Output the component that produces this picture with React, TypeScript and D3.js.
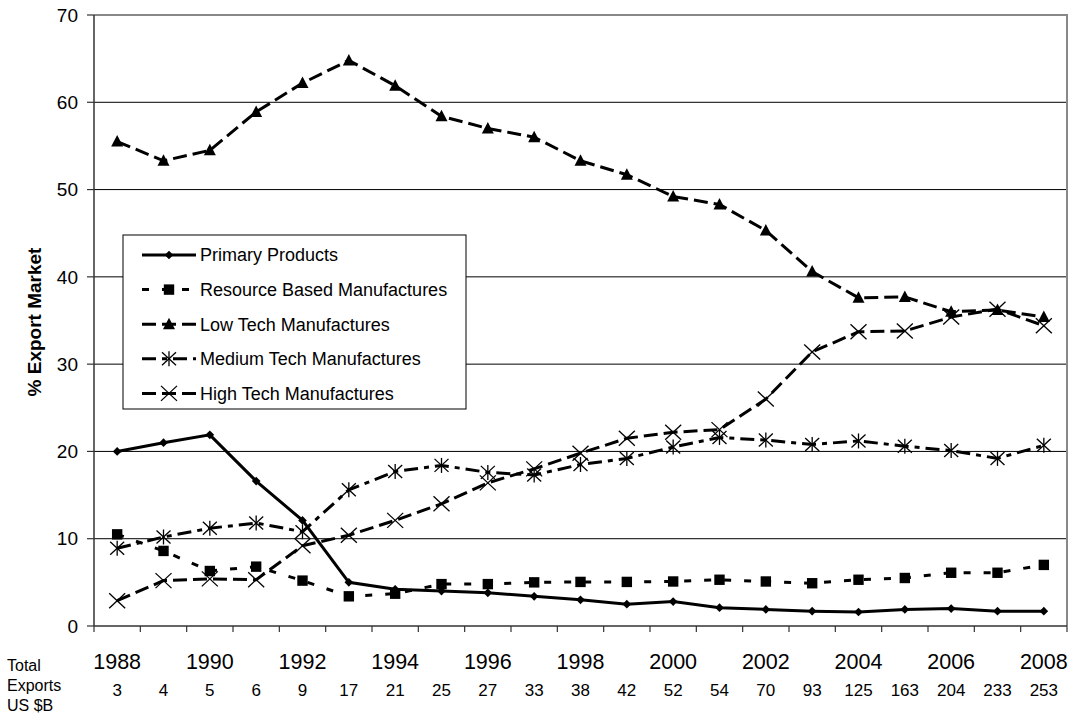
import React from "react";
import * as d3 from "d3";

const years = d3.range(1988, 2009);
const exportsUSB = [3, 4, 5, 6, 9, 17, 21, 25, 27, 33, 38, 42, 52, 54, 70, 93, 125, 163, 204, 233, 253];
const yTicks = [0, 10, 20, 30, 40, 50, 60, 70];

const primary = [20.0, 21.0, 21.9, 16.6, 12.1, 5.0, 4.2, 4.0, 3.8, 3.4, 3.0, 2.5, 2.8, 2.1, 1.9, 1.7, 1.6, 1.9, 2.0, 1.7, 1.7];
const resource = [10.5, 8.6, 6.3, 6.8, 5.2, 3.4, 3.7, 4.8, 4.8, 5.0, 5.05, 5.05, 5.1, 5.3, 5.1, 4.9, 5.3, 5.5, 6.1, 6.1, 7.0];
const lowTech = [55.5, 53.3, 54.5, 58.9, 62.2, 64.8, 61.9, 58.4, 57.0, 56.0, 53.3, 51.7, 49.2, 48.3, 45.3, 40.6, 37.6, 37.7, 36.0, 36.2, 35.4];
const mediumTech = [8.9, 10.2, 11.2, 11.8, 10.8, 15.6, 17.7, 18.4, 17.6, 17.3, 18.5, 19.2, 20.5, 21.6, 21.3, 20.8, 21.2, 20.6, 20.1, 19.2, 20.7];
const highTech = [2.9, 5.2, 5.4, 5.3, 9.2, 10.4, 12.1, 14.0, 16.4, 18.0, 19.8, 21.5, 22.2, 22.5, 26.0, 31.4, 33.7, 33.8, 35.4, 36.3, 34.4];

type Marker = "diamond" | "square" | "triangle" | "asterisk" | "cross";

const series: { name: string; values: number[]; dash: string; marker: Marker }[] = [
  { name: "Primary Products", values: primary, dash: "none", marker: "diamond" },
  { name: "Resource Based Manufactures", values: resource, dash: "7,13", marker: "square" },
  { name: "Low Tech Manufactures", values: lowTech, dash: "14,6", marker: "triangle" },
  { name: "Medium Tech Manufactures", values: mediumTech, dash: "14,6,5,6", marker: "asterisk" },
  { name: "High Tech Manufactures", values: highTech, dash: "14,6", marker: "cross" },
];

const FONT = "Liberation Sans, Arial, sans-serif";
const W = 1073, H = 715;
const m = { left: 94, right: 6, top: 15, bottom: 89 };

function MarkerShape({ type, x, y }: { type: Marker; x: number; y: number }) {
  const t = `translate(${x},${y})`;
  if (type === "diamond") {
    return <path transform={t} d={d3.symbol(d3.symbolDiamond2, 48)()!} fill="#000" />;
  }
  if (type === "square") {
    return <rect x={x - 5.2} y={y - 5.2} width={10.4} height={10.4} fill="#000" />;
  }
  if (type === "triangle") {
    return <path transform={t} d="M0,-6.5L6,5L-6,5Z" fill="#000" />;
  }
  if (type === "asterisk") {
    return (
      <g transform={t} stroke="#000" strokeWidth={1.3}>
        <line x1={-7} y1={-6.5} x2={7} y2={6.5} />
        <line x1={-7} y1={6.5} x2={7} y2={-6.5} />
        <line x1={0} y1={-7.5} x2={0} y2={7.5} />
      </g>
    );
  }
  return (
    <g transform={t} stroke="#000" strokeWidth={1.3}>
      <line x1={-8} y1={-7.5} x2={8} y2={7.5} />
      <line x1={-8} y1={7.5} x2={8} y2={-7.5} />
    </g>
  );
}

export default function App() {
  const iW = W - m.left - m.right;
  const iH = H - m.top - m.bottom;
  const x = d3.scaleBand<number>().domain(years).range([m.left, m.left + iW]);
  const y = d3.scaleLinear().domain([0, 70]).range([m.top + iH, m.top]);
  const cx = (yr: number) => x(yr)! + x.bandwidth() / 2;
  const line = d3.line<number>().x((_, i) => cx(years[i])).y(d => y(d));

  const legend = { x: 123, y: 235, w: 343, h: 174 };

  return (
    <svg width={W} height={H} style={{ position: "absolute", left: 0, top: 0, background: "#fff" }} fontFamily={FONT}>
      {/* gridlines */}
      {yTicks.slice(1, -1).map(t => (
        <line key={t} x1={m.left} x2={m.left + iW} y1={y(t)} y2={y(t)} stroke="#000" strokeWidth={1} />
      ))}
      {/* plot border */}
      <path d={`M${m.left},${y(70)}H${m.left + iW}V${y(0)}`} fill="none" stroke="#888" strokeWidth={2} />
      {/* y axis */}
      <line x1={m.left} x2={m.left} y1={y(70)} y2={y(0)} stroke="#333" strokeWidth={1.5} />
      {yTicks.map(t => (
        <g key={t}>
          <line x1={m.left - 7} x2={m.left} y1={y(t)} y2={y(t)} stroke="#333" strokeWidth={1.2} />
          <text x={78} y={y(t)} dy="0.35em" textAnchor="end" fontSize={19}>{t}</text>
        </g>
      ))}
      <text transform={`translate(41,${322}) rotate(-90)`} textAnchor="middle" fontSize={19} fontWeight="bold">% Export Market</text>
      {/* x axis */}
      <line x1={m.left} x2={m.left + iW} y1={y(0)} y2={y(0)} stroke="#333" strokeWidth={1.5} />
      {[...years, 2009].map((yr, i) => {
        const xp = m.left + i * x.bandwidth();
        return <line key={yr} x1={xp} x2={xp} y1={y(0)} y2={y(0) + 6} stroke="#333" strokeWidth={1.2} />;
      })}
      {years.filter(yr => yr % 2 === 0).map(yr => (
        <text key={yr} x={cx(yr)} y={669} textAnchor="middle" fontSize={21.5}>{yr}</text>
      ))}
      {years.map((yr, i) => (
        <text key={yr} x={cx(yr)} y={696} textAnchor="middle" fontSize={17}>{exportsUSB[i]}</text>
      ))}
      <text x={7} y={671} fontSize={16}>Total</text>
      <text x={7} y={691} fontSize={16}>Exports</text>
      <text x={7} y={711} fontSize={16}>US $B</text>

      {/* series */}
      {series.map(s => (
        <g key={s.name}>
          <path d={line(s.values)!} fill="none" stroke="#000" strokeWidth={3} strokeDasharray={s.dash} />
          {s.values.map((v, i) => (
            <MarkerShape key={i} type={s.marker} x={cx(years[i])} y={y(v)} />
          ))}
        </g>
      ))}

      {/* legend */}
      <rect x={legend.x} y={legend.y} width={legend.w} height={legend.h} fill="#fff" stroke="#000" strokeWidth={1} />
      {series.map((s, i) => {
        const ly = 255 + i * 34.6;
        return (
          <g key={s.name}>
            <line x1={142} x2={196} y1={ly} y2={ly} stroke="#000" strokeWidth={3} strokeDasharray={s.dash} />
            <MarkerShape type={s.marker} x={169} y={ly} />
            <text x={200} y={ly} dy="0.35em" fontSize={18}>{s.name}</text>
          </g>
        );
      })}
    </svg>
  );
}
